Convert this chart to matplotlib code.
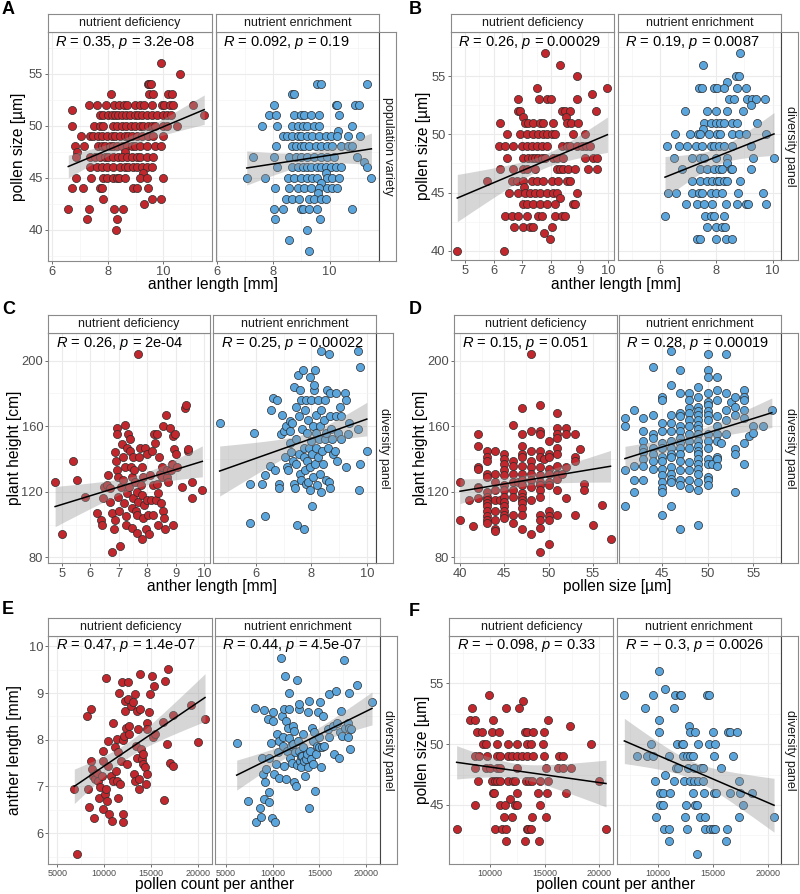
import numpy as np
import matplotlib
matplotlib.use('Agg')
import matplotlib.pyplot as plt
from matplotlib.ticker import FixedLocator

plt.rcParams['font.family'] = ['Liberation Sans', 'DejaVu Sans']
plt.rcParams['mathtext.fontset'] = 'custom'
plt.rcParams['mathtext.it'] = 'Liberation Sans:italic'
plt.rcParams['mathtext.rm'] = 'Liberation Sans'

W, H = 800, 894
RED = '#C1272D'
BLUE = '#5AA5DC'

# ---------------- data ----------------
# A: pollen size [um] rows -> anther lengths [mm]
a_def_rows = [
    (56, [9.92]), (55, [10.6]), (54, [9.43, 9.5, 9.55]),
    (53, [8.1, 9.5, 9.64, 10.18, 10.3]),
    (52, [7.33, 7.63, 7.93, 8.23, 8.41, 8.59, 8.71, 8.98, 9.16, 9.32, 9.58, 9.94, 10.04, 10.24, 10.36, 11.06]),
    (51.5, [6.73]),
    (51, [7.72, 7.84, 8.02, 8.14, 8.26, 8.38, 8.5, 8.65, 8.8, 8.98, 9.1, 9.22, 9.4, 9.58, 9.76, 9.98, 10.12, 10.26, 11.47]),
    (50, [6.7, 7.51, 7.72, 7.84, 8.2, 8.32, 8.5, 8.65, 8.83, 8.98, 9.16, 9.28, 9.46, 9.58, 9.7, 10.0, 10.12, 10.48]),
    (49, [7.02, 7.36, 7.48, 7.66, 7.78, 7.96, 8.14, 8.26, 8.44, 8.62, 8.74, 8.86, 9.04, 9.22, 9.46, 9.64, 10.0]),
    (48, [6.82, 7.15, 7.66, 7.78, 7.9, 8.08, 8.2, 8.32, 8.5, 8.68, 8.86, 8.98, 9.16, 9.4, 9.7, 9.92]),
    (47.5, [6.88, 8.62]),
    (47, [6.85, 7.36, 7.54, 7.72, 7.9, 8.02, 8.2, 8.38, 8.5, 8.68, 8.86, 9.04, 9.16, 9.4, 9.64]),
    (46, [7.36, 7.6, 7.78, 7.96, 8.2, 8.44, 8.62, 8.74, 8.92, 9.04, 9.22, 9.4, 9.58]),
    (45.5, [9.28]),
    (45, [6.84, 7.38, 7.84, 7.96, 8.2, 8.32, 8.4, 8.62, 9.16, 9.4, 10.0]),
    (44, [6.7, 7.12, 7.72, 7.78, 8.92, 9.04, 9.46]),
    (43, [7.84, 9.58, 9.92]), (42.5, [9.3]),
    (42, [6.58, 7.33, 8.22, 8.56]), (41, [7.27, 8.32]), (40, [8.3]),
]
a_enr_rows = [
    (54, [9.56, 9.68, 11.33]), (53, [8.68, 8.74]),
    (52, [8.04, 10.21, 10.27, 10.89, 11.04]),
    (51, [7.84, 8.09, 8.74, 8.98, 9.09, 9.33, 9.62, 10.33]),
    (50, [7.59, 8.13, 8.68, 8.86, 9.04, 9.21, 9.45, 9.62, 10.8]),
    (49.5, [10.31]),
    (49, [8.33, 8.47, 8.68, 8.86, 8.98, 9.21, 9.39, 9.62, 9.86, 10.04, 10.27, 10.66, 11.07]),
    (48, [8.09, 8.68, 8.8, 8.98, 9.09, 9.27, 9.51, 9.68, 9.92, 10.09, 10.39, 10.64, 10.8]),
    (47, [7.27, 8.04, 8.56, 8.8, 8.98, 9.21, 9.45, 9.68, 9.92, 10.15, 10.98]),
    (46.5, [11.21]),
    (46, [8.15, 8.68, 8.86, 9.04, 9.21, 9.33, 9.56, 9.68, 9.86, 10.04, 10.21, 10.42, 11.33]),
    (45.5, [9.86]),
    (45, [7.06, 7.72, 8.54, 8.74, 8.98, 9.21, 9.39, 9.56, 9.92, 10.09, 10.33, 11.48]),
    (44.5, [9.68]),
    (44, [8.06, 8.56, 8.86, 9.09, 9.33, 9.62, 9.92, 10.09, 10.27]),
    (43.5, [9.6]),
    (43, [8.45, 8.68, 8.92, 9.27, 9.45, 9.68, 9.86]),
    (42, [8.04, 8.36, 8.98, 9.04, 9.27, 9.56, 10.78]),
    (41, [8.07, 9.65]), (40, [9.21]), (39, [8.56]), (38, [9.27]),
]

# B: pollen size rows -> anther length (diversity panel)
b_def_rows = [
    (57, [7.79]), (56, [8.31]), (55, [8.9]), (54, [7.52, 9.97]), (53.5, [9.42]),
    (53, [6.86, 7.59, 7.85, 7.99, 8.9]),
    (52, [6.86, 6.92, 8.37, 8.49, 8.66, 9.57]),
    (51.5, [7.03, 8.51]),
    (51, [6.22, 7.09, 7.21, 7.38, 7.62, 7.73, 8.08, 8.55, 8.69, 8.95]),
    (50, [6.45, 6.92, 7.15, 7.38, 7.56, 7.73, 7.85, 8.02, 8.14, 8.78, 9.19]),
    (49, [6.2, 6.4, 6.69, 6.98, 7.15, 7.33, 7.5, 7.67, 7.85, 8.37, 8.55, 8.66, 8.9, 9.07, 9.24, 9.36]),
    (48, [6.48, 7.03, 7.21, 7.33, 7.44, 7.56, 7.67, 7.79, 8.08, 8.2, 8.41, 9.19, 9.48, 9.59]),
    (47, [6.22, 6.69, 7.03, 7.15, 7.44, 8.2, 8.31, 8.43, 8.6, 8.84, 9.3, 9.59]),
    (46, [5.78, 6.63, 6.8, 7.03, 7.33, 7.5, 7.73, 8.02, 8.26, 8.55, 8.66]),
    (45.5, [7.06]),
    (45, [6.55, 6.86, 7.09, 7.27, 7.44, 7.62, 7.85, 8.08, 8.2, 8.9]),
    (44.5, [8.31]),
    (44, [7.03, 7.15, 7.38, 7.62, 7.85, 8.14, 8.78, 8.84]),
    (43, [6.4, 6.63, 6.86, 7.15, 7.56, 7.67, 8.14, 8.37, 8.49]),
    (42, [6.71, 7.03, 7.27, 7.36, 8.02]),
    (41.5, [7.76]), (41, [7.97]), (40, [4.73, 6.37]),
]
b_enr_rows = [
    (57, [8.86]), (56, [7.54]), (55, [8.69, 8.8]), (54.5, [8.37]),
    (54, [7.38, 7.5, 7.92, 8.04, 8.27, 8.75, 9.04]),
    (53, [8.45, 8.63, 9.1, 9.28, 9.4, 9.73]), (52.5, [9.25]),
    (52, [6.89, 7.68, 7.98, 8.39, 8.96]),
    (51, [7.56, 7.8, 7.98, 8.15, 8.27, 8.57, 8.75, 9.46]),
    (50.5, [7.53]),
    (50, [6.52, 7.07, 7.36, 7.44, 7.74, 8.04, 8.15, 8.57, 8.8, 9.04, 9.75]),
    (49, [6.24, 6.67, 6.97, 7.27, 7.5, 7.8, 7.92, 8.09, 8.27, 8.57, 9.22]),
    (48, [6.5, 7.15, 7.44, 7.56, 7.98, 8.39, 9.31, 10.05]),
    (47.5, [8.37]),
    (47, [6.79, 7.44, 7.68, 7.92, 8.09, 8.21, 8.51, 8.57, 9.22]),
    (46, [7.15, 7.44, 7.68, 7.86, 8.04, 8.09, 8.27, 8.39, 8.84]),
    (45, [6.3, 6.58, 7.15, 7.38, 7.5, 7.8, 7.98, 8.19, 8.78, 9.67]),
    (44, [6.91, 7.33, 7.56, 7.86, 8.33, 8.75, 9.04, 9.14, 9.75]),
    (43, [6.18, 7.6, 7.8, 7.92, 8.27]),
    (42, [7.68, 7.98, 8.21, 8.3]),
    (41, [7.33, 7.44, 7.98, 8.33, 8.57]),
]

# C: (anther length [mm], plant height [cm])
c_def = [
    (4.77, 126), (5.0, 94), (5.39, 139), (5.55, 127), (5.82, 117), (6.23, 107), (6.38, 103),
    (6.4, 100), (6.44, 116), (6.49, 123), (6.58, 124), (6.64, 130), (6.7, 122), (6.7, 114),
    (6.76, 107), (6.78, 83), (6.84, 97), (6.87, 103), (6.87, 144), (6.91, 139), (6.93, 159),
    (6.93, 155), (6.96, 133), (6.99, 129), (6.99, 117), (7.03, 108), (7.05, 87), (7.07, 123),
    (7.11, 149), (7.14, 141), (7.17, 127), (7.19, 113), (7.22, 161), (7.22, 135), (7.26, 105),
    (7.26, 100), (7.28, 147), (7.31, 119), (7.34, 155), (7.38, 123), (7.4, 152), (7.4, 145),
    (7.42, 135), (7.46, 129), (7.46, 110), (7.46, 98), (7.49, 141), (7.52, 116), (7.55, 133),
    (7.58, 126), (7.61, 108), (7.63, 120), (7.63, 106), (7.66, 95), (7.67, 204), (7.69, 114),
    (7.73, 141), (7.75, 147), (7.78, 124), (7.81, 135), (7.81, 118), (7.81, 91), (7.85, 104),
    (7.87, 129), (7.89, 112), (7.93, 147), (7.95, 97), (7.99, 115), (8.01, 143), (8.04, 106),
    (8.08, 94), (8.1, 130), (8.13, 115), (8.16, 145), (8.2, 124), (8.22, 106), (8.24, 155),
    (8.28, 150), (8.31, 115), (8.34, 125), (8.36, 155), (8.4, 119), (8.4, 100), (8.43, 141),
    (8.45, 131), (8.48, 113), (8.51, 135), (8.54, 129), (8.57, 160), (8.57, 108), (8.59, 104),
    (8.63, 97), (8.65, 167), (8.69, 129), (8.71, 133), (8.75, 126), (8.81, 159), (8.83, 133),
    (8.86, 137), (8.9, 100), (8.92, 154), (8.95, 146), (8.98, 155), (9.02, 143), (9.04, 135),
    (9.22, 123), (9.34, 171), (9.36, 173), (9.43, 145), (9.45, 146), (9.57, 126), (9.57, 116),
    (9.94, 121),
]
c_enr = [
    (4.7, 162), (5.78, 125), (5.8, 101), (5.92, 156), (6.23, 125), (6.32, 105), (6.34, 130),
    (6.52, 136), (6.56, 170), (6.62, 177), (6.77, 176), (6.71, 133), (6.83, 125), (6.83, 122),
    (6.95, 167), (6.9, 155), (7.05, 141), (7.0, 157), (7.1, 160), (7.12, 135), (7.16, 133),
    (7.22, 163), (7.22, 150), (7.25, 157), (7.28, 144), (7.32, 162), (7.34, 139), (7.36, 125),
    (7.38, 184), (7.4, 122), (7.44, 137), (7.46, 172), (7.46, 152), (7.5, 100), (7.52, 191),
    (7.54, 166), (7.56, 143), (7.58, 131), (7.6, 182), (7.64, 176), (7.64, 127), (7.67, 158),
    (7.7, 194), (7.72, 147), (7.72, 141), (7.74, 97), (7.76, 170), (7.76, 133), (7.8, 125),
    (7.82, 176), (7.84, 156), (7.84, 139), (7.88, 164), (7.88, 126), (7.92, 147), (7.94, 190),
    (7.94, 135), (7.96, 121), (8.0, 176), (8.0, 151), (8.04, 143), (8.04, 111), (8.06, 160),
    (8.06, 129), (8.08, 182), (8.08, 185), (8.12, 194), (8.12, 137), (8.16, 156), (8.18, 167),
    (8.18, 147), (8.2, 124), (8.24, 176), (8.24, 141), (8.28, 152), (8.3, 131), (8.32, 160),
    (8.36, 206), (8.36, 170), (8.36, 120), (8.4, 145), (8.42, 137), (8.44, 164), (8.48, 176),
    (8.48, 152), (8.52, 127), (8.54, 156), (8.58, 182), (8.6, 147), (8.62, 204), (8.64, 126),
    (8.66, 180), (8.66, 166), (8.66, 122), (8.72, 158), (8.74, 152), (8.78, 143), (8.84, 145),
    (8.9, 180), (8.9, 166), (8.92, 139), (8.96, 156), (9.02, 172), (9.08, 166), (9.08, 152),
    (9.2, 180), (9.24, 176), (9.24, 135), (9.32, 155), (9.36, 162), (9.68, 206), (9.74, 196),
    (9.68, 158), (9.72, 121), (9.74, 137), (10.0, 145),
]

# D: pollen size columns -> plant heights
d_def_cols = [
    (40, [126, 103]), (41, [115]), (41.5, [99]),
    (42, [155, 148, 135, 134, 123, 122, 116]),
    (43, [145, 141, 139, 131, 129, 120, 117, 115, 113, 111, 108, 105, 103, 101]),
    (44, [145, 131, 126, 121, 115, 108, 103, 97, 96]), (44.5, [115]),
    (45, [143, 140, 137, 133, 130, 124, 121, 117, 114, 111, 108, 106, 104]),
    (46, [161, 139, 136, 131, 126, 121, 117, 106, 101]), (46.5, [126]),
    (47, [171, 155, 148, 143, 141, 136, 131, 127, 124, 119, 117, 115, 113, 110, 106, 97]),
    (48, [204, 157, 145, 139, 135, 131, 127, 123, 115, 94]),
    (49, [173, 157, 155, 145, 141, 135, 130, 126, 124, 121, 117, 106, 103, 98, 83]),
    (49.5, [140]),
    (50, [151, 143, 141, 134, 131, 126, 124, 108, 105, 103, 88]),
    (51, [168, 159, 155, 153, 147, 143, 136, 131, 130, 128, 121, 106]), (51.5, [131]),
    (52, [159, 155, 135, 116]), (53, [155, 141, 139, 106]), (53.5, [146]),
    (54, [125, 121]), (55, [100]), (56, [112]), (57, [91]),
]
d_enr_cols = [
    (41, [165, 160, 133, 111]), (42, [170, 136, 127, 120]),
    (43, [165, 157, 151, 147, 144, 140, 136, 127]),
    (44, [196, 167, 155, 153, 147, 143, 139, 134]),
    (45, [178, 176, 162, 157, 150, 147, 141, 139, 134, 130, 126, 122, 120, 106]),
    (46, [206, 185, 167, 162, 157, 151, 147, 143, 141, 135, 131, 128, 126, 111]),
    (47, [194, 180, 168, 166, 160, 157, 153, 150, 147, 143, 139, 133, 127, 124, 97]),
    (48, [180, 176, 171, 168, 164, 160, 155, 151, 147, 138, 133, 127, 122]),
    (49, [184, 178, 172, 169, 167, 164, 161, 158, 155, 151, 148, 145, 143, 140, 137, 134, 131, 126, 121, 100]),
    (50, [204, 194, 190, 180, 175, 173, 169, 167, 164, 155, 151, 147, 140, 137, 129, 127, 124]),
    (50.5, [137]),
    (51, [190, 182, 176, 166, 160, 155, 151, 141, 140, 136]), (51.5, [150]),
    (52, [204, 180, 170, 164, 155]), (52.5, [175]),
    (53, [178, 172, 167, 146, 143, 120]),
    (54, [182, 178, 176, 170, 165, 150, 137]), (54.5, [154]),
    (55, [160, 156]), (56, [160]), (57, [170]),
]

# E: (pollen count per anther, anther length [mm])
e_def = [
    (6817, 6.94), (7066, 5.55), (8135, 8.51), (8562, 8.66), (8313, 6.94), (8420, 6.57), (8562, 7.54),
    (8669, 7.37), (8848, 7.23), (9026, 7.16), (8954, 6.32), (9204, 7.29), (9382, 7.12), (9489, 6.76),
    (9560, 6.98), (9738, 7.23), (9845, 7.55), (9916, 7.76), (9916, 6.51), (10094, 6.84), (10201, 9.32),
    (10201, 6.94), (10343, 6.69), (10451, 7.98), (10451, 7.44), (10558, 6.41), (10700, 7.23),
    (10807, 6.26), (10914, 7.12), (10985, 8.37), (11163, 7.84), (11270, 7.34), (11341, 7.12),
    (11413, 8.01), (11519, 7.73), (11519, 6.75), (11626, 9.01), (11697, 7.05), (11769, 7.55),
    (11876, 9.23), (11983, 7.99), (12054, 6.41), (12054, 6.23), (12125, 8.09), (12232, 8.84),
    (12232, 8.62), (12339, 8.26), (12410, 7.48), (12517, 8.87), (12588, 9.23), (12695, 8.12),
    (12695, 8.3), (12838, 8.73), (13122, 8.8), (13193, 7.26), (13300, 8.98), (13300, 7.12),
    (13407, 7.87), (13478, 8.62), (13549, 7.62), (13656, 8.23), (13763, 7.16), (13763, 6.94),
    (13834, 9.41), (13834, 8.66), (13905, 7.8), (14012, 7.59), (14118, 7.48), (14190, 7.69),
    (14368, 7.41), (14474, 7.05), (14546, 8.37), (14546, 7.26), (14617, 8.23), (14831, 8.59),
    (14904, 8.98), (15082, 9.37), (15189, 8.05), (15331, 9.16), (15438, 8.12), (16328, 8.39),
    (16399, 6.71), (16506, 9.25), (16685, 7.91), (16792, 9.51), (17041, 7.51), (17398, 7.44),
    (17327, 8.54), (19250, 8.75), (20069, 7.96), (20782, 8.44),
]
e_enr = [
    (6143, 7.93), (7321, 6.68), (8143, 8.69), (8214, 6.25), (8643, 6.55), (8750, 6.34), (8857, 7.62),
    (8929, 7.26), (9036, 8.63), (9107, 6.74), (9179, 7.09), (9286, 7.37), (9464, 8.44), (9571, 6.89),
    (9571, 6.66), (9643, 7.62), (9821, 7.94), (9929, 6.32), (10000, 8.41), (10071, 8.59),
    (10179, 7.26), (10286, 6.25), (10357, 7.48), (10429, 8.12), (10536, 7.73), (10643, 7.19),
    (10714, 7.98), (10893, 9.75), (11000, 8.52), (11071, 8.05), (11143, 7.87), (11250, 8.66),
    (11250, 7.44), (11357, 9.37), (11429, 8.41), (11429, 7.16), (11500, 7.77), (11607, 8.26),
    (11714, 8.66), (11786, 8.04), (11786, 9.01), (11857, 7.62), (11964, 7.87), (12071, 7.51),
    (12143, 8.3), (12214, 7.91), (12321, 7.09), (12321, 8.19), (12429, 7.73), (12500, 7.01),
    (12571, 7.46), (12607, 9.28), (12679, 7.98), (12786, 7.77), (12857, 8.66), (12857, 8.77),
    (12929, 7.55), (13036, 7.66), (13036, 7.41), (13143, 7.66), (13214, 7.84), (13286, 8.12),
    (13393, 7.55), (13500, 7.23), (13571, 7.59), (13643, 7.69), (13750, 7.41), (13821, 8.59),
    (13929, 8.84), (13929, 6.55), (14000, 7.77), (14107, 7.59), (14214, 8.26), (14286, 7.48),
    (14357, 7.98), (14464, 8.16), (14571, 6.91), (14643, 7.69), (14714, 7.87), (14821, 8.59),
    (14929, 7.84), (15000, 8.05), (15071, 8.8), (15179, 7.41), (15286, 7.84), (15357, 8.52),
    (15536, 7.87), (15893, 8.23), (16000, 8.98), (16071, 8.05), (16429, 8.3), (16607, 7.69),
    (16786, 9.05), (16857, 8.37), (17071, 7.62), (17214, 8.16), (17321, 8.62), (17429, 8.09),
    (17679, 9.71), (17786, 8.26), (18036, 8.37), (18036, 8.05), (18143, 8.26), (18214, 9.01),
    (18286, 7.8), (18393, 8.23), (19000, 9.17), (20643, 8.82),
]

# F: pollen size rows -> pollen count per anther
f_def_rows = [
    (54, [9939]), (53.5, [12988]), (53, [8323, 11463, 12652]),
    (52, [8171, 8628, 10244, 15274]), (51.5, [17317]),
    (51, [8841, 9238, 10152, 10854, 13201, 13415, 13963, 14970]),
    (50, [9390, 9604, 10610, 11677, 12500, 13354, 13735, 14878, 19207]),
    (49, [8628, 9024, 9695, 10610, 10915, 11677, 11982, 12439, 12896, 13415, 13963, 14939, 16341, 16646]),
    (48, [8628, 9604, 10000, 10610, 10915, 12500, 15122, 16250, 16707, 17409]),
    (47, [8872, 10152, 10457, 10610, 10915, 11677, 12134, 12287, 13293, 13598, 13811, 14573, 15335, 20000]),
    (46, [10244, 10396, 12500, 14360, 15244, 16951]), (45.5, [11829]),
    (45, [8628, 10915, 11372, 12287, 12439, 14573]),
    (44, [11311, 12043, 13811, 15122]),
    (43, [6951, 10457, 11067, 11463, 13354, 13506, 13750, 20610]),
    (42, [11463, 13201, 14512]),
]
f_enr_rows = [
    (56, [10152]), (54.5, [10667]),
    (54, [6970, 9606, 11576, 12030, 12121, 14515, 14697]),
    (53, [8848, 11485]), (52, [10152]), (51.5, [12879]),
    (51, [10152, 12939, 13394, 15061, 16424, 16576, 17242]),
    (50, [9394, 11727, 12182, 12333, 13697, 14697, 15212]),
    (49, [8152, 9061, 9545, 11061, 12333, 12636, 12939, 13242, 15121, 16879]),
    (48, [11636, 11818, 12788, 13303, 13939, 14091, 15727]), (47.5, [10667]),
    (47, [9758, 11515, 12424, 12939, 13303, 13697, 14152, 17424]),
    (46, [10212, 10515, 11121, 13242, 14212, 15121, 15303, 16576, 17485, 18545]),
    (45, [10212, 10515, 12576, 13394, 13606, 17788]),
    (44, [9818, 12485, 13848, 14303, 17424, 20576]),
    (43, [10576, 11061, 12697, 14303, 14758, 15061, 15212, 16333]),
    (42, [11061, 16212]), (41, [13545]),
]

cor_labels = {
    'A': ["$R$ = 0.35, $p$ = 3.2e-08", "$R$ = 0.092, $p$ = 0.19"],
    'B': ["$R$ = 0.26, $p$ = 0.00029", "$R$ = 0.19, $p$ = 0.0087"],
    'C': ["$R$ = 0.26, $p$ = 2e-04", "$R$ = 0.25, $p$ = 0.00022"],
    'D': ["$R$ = 0.15, $p$ = 0.051", "$R$ = 0.28, $p$ = 0.00019"],
    'E': ["$R$ = 0.47, $p$ = 1.4e-07", "$R$ = 0.44, $p$ = 4.5e-07"],
    'F': ["$R$ = \u2212 0.098, $p$ = 0.33", "$R$ = \u2212 0.3, $p$ = 0.0026"],
}
facet_names = ['nutrient deficiency', 'nutrient enrichment']


def from_rows(rows):
    x = [v for yv, xs in rows for v in xs]
    y = [yv for yv, xs in rows for v in xs]
    return np.array(x, float), np.array(y, float)


def from_cols(cols):
    x = [xv for xv, ys in cols for v in ys]
    y = [v for xv, ys in cols for v in ys]
    return np.array(x, float), np.array(y, float)


def from_pairs(pairs):
    arr = np.array(pairs, float)
    return arr[:, 0], arr[:, 1]


def add_fit(ax, x, y):
    n = len(x)
    b, a = np.polyfit(x, y, 1)
    xs = np.linspace(x.min(), x.max(), 100)
    yhat = a + b * xs
    s = np.sqrt(((y - (a + b * x)) ** 2).sum() / (n - 2))
    se = s * np.sqrt(1 / n + (xs - x.mean()) ** 2 / ((x - x.mean()) ** 2).sum())
    ax.fill_between(xs, yhat - 1.97 * se, yhat + 1.97 * se, color='#999999', alpha=0.4, lw=0, zorder=3)
    ax.plot(xs, yhat, color='black', lw=1.1, zorder=4)


def minor_of(ticks):
    step = ticks[1] - ticks[0]
    return list(np.arange(ticks[0] - step / 2, ticks[-1] + step, step))


def facet(fig, box, x, y, color, xlim, ylim, xticks, yticks, show_y, title, cor, xsize=9.3):
    x0, x1, y0, y1 = box
    ax = fig.add_axes([x0 / W, 1 - y1 / H, (x1 - x0) / W, (y1 - y0) / H])
    ax.scatter(x, y, s=34, c=color, edgecolors='#2a2a2a', linewidths=0.5, zorder=2)
    add_fit(ax, x, y)
    ax.set_xlim(xlim)
    ax.set_ylim(ylim)
    ax.xaxis.set_major_locator(FixedLocator(xticks))
    ax.xaxis.set_minor_locator(FixedLocator(minor_of(xticks)))
    ax.yaxis.set_major_locator(FixedLocator(yticks))
    ax.yaxis.set_minor_locator(FixedLocator(minor_of(yticks)))
    ax.grid(which='major', color='#EBEBEB', lw=0.8, zorder=0)
    ax.grid(which='minor', color='#F3F3F3', lw=0.45, zorder=0)
    ax.set_axisbelow(True)
    for sp in ax.spines.values():
        sp.set_color('#8a8a8a')
        sp.set_linewidth(0.8)
    ax.tick_params(which='major', length=2.2, width=0.6, color='#555555',
                   labelsize=9.3, labelcolor='#4D4D4D', pad=1.5)
    ax.tick_params(axis='x', labelsize=xsize)
    ax.tick_params(which='minor', length=0)
    if not show_y:
        ax.tick_params(axis='y', left=False, labelleft=False)
    ax.annotate(cor, xy=(0, 1), xycoords='axes fraction', xytext=(5.2, -7.4),
                textcoords='offset points', ha='left', va='center', fontsize=10.5, color='black')
    # strip on top
    st = fig.add_axes([x0 / W, 1 - y0 / H, (x1 - x0) / W, 18 / H])
    st.set_xticks([])
    st.set_yticks([])
    for sp in st.spines.values():
        sp.set_color('#8a8a8a')
        sp.set_linewidth(0.8)
    st.text(0.5, 0.5, title, ha='center', va='center', fontsize=9, color='#1A1A1A',
            transform=st.transAxes)
    return ax


def right_strip(fig, x0, y0, y1, label):
    st = fig.add_axes([x0 / W, 1 - y1 / H, 17 / W, (y1 - y0) / H])
    st.set_xticks([])
    st.set_yticks([])
    for sp in st.spines.values():
        sp.set_color('#8a8a8a')
        sp.set_linewidth(0.8)
    st.spines['left'].set_color('#444444')
    st.text(0.5, 0.5, label, ha='center', va='center', rotation=-90, fontsize=9,
            color='#1A1A1A', transform=st.transAxes)


fig = plt.figure(figsize=(W / 100, H / 100), dpi=100)
fig.patch.set_facecolor('white')

panels = [
    dict(k='A', d=(from_rows(a_def_rows), from_rows(a_enr_rows)),
         boxes=((48, 212, 32, 261), (216, 379, 32, 261)),
         xl=((5.85, 11.75), (5.97, 11.75)), yl=(37, 59),
         xt=([6, 8, 10], [6, 8, 10]), yt=[40, 45, 50, 55],
         xlab='anther length [mm]', ylab='pollen size [\u00b5m]', side='population variety',
         lx=2, ly=9, ylx=19, xly=285),
    dict(k='B', d=(from_rows(b_def_rows), from_rows(b_enr_rows)),
         boxes=((450.7, 614, 32, 260), (617.7, 781, 32, 260)),
         xl=((4.5, 10.2), (4.5, 10.3)), yl=(39.2, 58.8),
         xt=([5, 6, 7, 8, 9, 10], [6, 8, 10]), yt=[40, 45, 50, 55],
         xlab='anther length [mm]', ylab='pollen size [\u00b5m]', side='diversity panel',
         lx=409, ly=9, ylx=423, xly=285),
    dict(k='C', d=(from_pairs(c_def), from_pairs(c_enr)),
         boxes=((48.3, 210, 333.3, 562.7), (213.3, 375.7, 333.3, 562.7)),
         xl=((4.53, 10.21), (4.47, 10.32)), yl=(76.7, 216.7),
         xt=([5, 6, 7, 8, 9, 10], [6, 8, 10]), yt=[80, 120, 160, 200],
         xlab='anther length [mm]', ylab='plant height [cm]', side='diversity panel',
         lx=2, ly=309, ylx=15, xly=586),
    dict(k='D', d=(from_cols(d_def_cols), from_cols(d_enr_cols)),
         boxes=((454.3, 616.7, 333.3, 562.7), (619, 781, 333.3, 562.7)),
         xl=((39.36, 57.7), (40.35, 58.0)), yl=(76.7, 216.7),
         xt=([40, 45, 50, 55], [45, 50, 55]), yt=[80, 120, 160, 200],
         xlab='pollen size [\u00b5m]', ylab='plant height [cm]', side='diversity panel',
         lx=409, ly=309, ylx=421, xly=587),
    dict(k='E', d=(from_pairs(e_def), from_pairs(e_enr)),
         boxes=((48.3, 212.3, 635.7, 864), (215, 380, 635.7, 864)),
         xl=((4040, 21560), (3820, 21500)), yl=(5.34, 10.23),
         xt=([5000, 10000, 15000, 20000], [5000, 10000, 15000, 20000]), yt=[6, 7, 8, 9, 10],
         xlab='pollen count per anther', ylab='anther length [mm]', side='diversity panel',
         lx=2, ly=610, ylx=14, xly=884),
    dict(k='F', d=(from_rows(f_def_rows), from_rows(f_enr_rows)),
         boxes=((449.3, 613.3, 635.7, 864), (617.3, 781, 635.7, 864)),
         xl=((6280, 21280), (6330, 21210)), yl=(40.15, 58.9),
         xt=([10000, 15000, 20000], [10000, 15000, 20000]), yt=[45, 50, 55],
         xlab='pollen count per anther', ylab='pollen size [\u00b5m]', side='diversity panel',
         lx=409, ly=611, ylx=422, xly=884),
]

for p in panels:
    small_x = 6.5 if p['k'] in 'EF' else 9.3
    for i, color in enumerate([RED, BLUE]):
        x, y = p['d'][i]
        facet(fig, p['boxes'][i], x, y, color, p['xl'][i], p['yl'], p['xt'][i], p['yt'],
              i == 0, facet_names[i], cor_labels[p['k']][i], xsize=small_x)
    bl, br = p['boxes']
    right_strip(fig, br[1], br[2], br[3], p['side'])
    fig.text(p['lx'] / W, 1 - p['ly'] / H, p['k'], fontsize=13, fontweight='bold',
             ha='left', va='center')
    fig.text(p['ylx'] / W, 1 - (bl[2] + bl[3]) / 2 / H, p['ylab'], rotation=90,
             ha='center', va='center', fontsize=11.2)
    fig.text((bl[0] + br[1]) / 2 / W, 1 - p['xly'] / H, p['xlab'],
             ha='center', va='center', fontsize=11.2)

fig.savefig('out.png', dpi=100)
